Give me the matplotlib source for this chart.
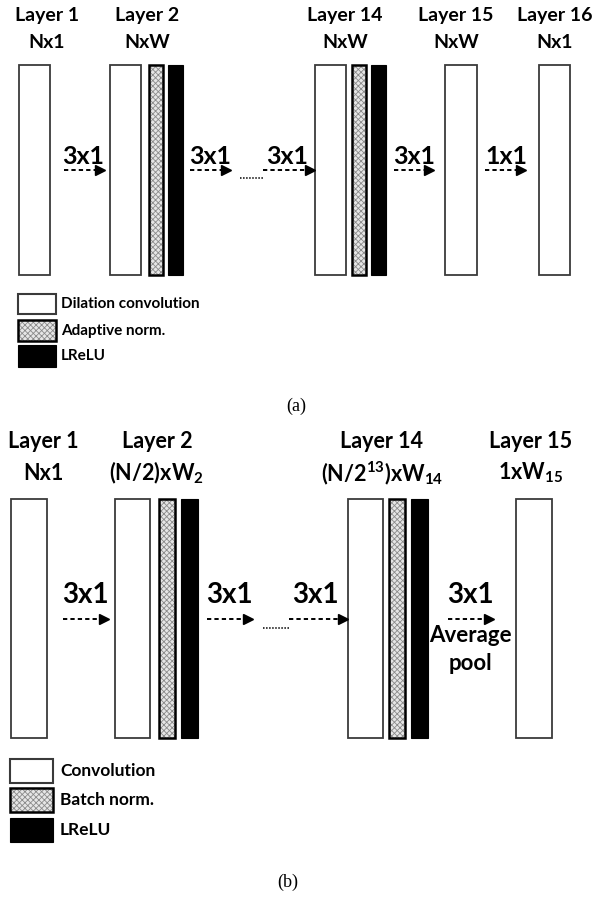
import matplotlib
matplotlib.use("Agg")
import matplotlib.pyplot as plt
from matplotlib.patches import Rectangle

# ---------- data ----------
# panel (a)
a_layers = ["Layer 1", "Layer 2", "Layer 14", "Layer 15", "Layer 16"]
a_sizes = ["Nx1", "NxW", "NxW", "NxW", "Nx1"]
a_kernels = ["3x1", "3x1", "3x1", "3x1", "1x1"]
a_legend = ["Dilation convolution", "Adaptive norm.", "LReLU"]

# panel (b)
b_layers = ["Layer 1", "Layer 2", "Layer 14", "Layer 15"]
b_sizes = ["Nx1", r"(N/2)xW$_{2}$", r"(N/2$^{13}$)xW$_{14}$", r"1xW$_{15}$"]
b_kernels = ["3x1", "3x1", "3x1", "3x1"]
b_legend = ["Convolution", "Batch norm.", "LReLU"]

plt.rcParams['font.family'] = ['Lato', 'DejaVu Sans']
plt.rcParams['font.weight'] = 'bold'
plt.rcParams['mathtext.fontset'] = 'custom'
plt.rcParams['mathtext.rm'] = 'Lato:bold'
plt.rcParams['mathtext.it'] = 'Lato:bold'
plt.rcParams['mathtext.bf'] = 'Lato:bold'
plt.rcParams['hatch.linewidth'] = 0.6

fig = plt.figure(figsize=(5.93, 8.97), dpi=100)
ax = fig.add_axes([0, 0, 1, 1])
ax.set_xlim(0, 593)
ax.set_ylim(897, 0)
ax.axis('off')


def conv_box(x0, x1, y0, y1, lw=1.3):
    ax.add_patch(Rectangle((x0, y0), x1 - x0, y1 - y0, facecolor='white',
                           edgecolor='#3a3a3a', lw=lw))


def norm_box(x0, x1, y0, y1):
    ax.add_patch(Rectangle((x0, y0), x1 - x0, y1 - y0, facecolor='#e6e6e6',
                           edgecolor='#8a8a8a', hatch='xxxxxx', lw=0))
    ax.add_patch(Rectangle((x0, y0), x1 - x0, y1 - y0, fill=False,
                           edgecolor='black', lw=1.8))


def relu_box(x0, x1, y0, y1):
    ax.add_patch(Rectangle((x0, y0), x1 - x0, y1 - y0, facecolor='black',
                           edgecolor='black', lw=0.8))


def arrow(x0, x1, y):
    ax.plot([x0, x1 - 7], [y, y], color='black', lw=1.4, ls=(0, (2.2, 1.6)))
    ax.plot([x1 - 4], [y], marker='>', color='black', ms=6.5, mec='black')


# ---------- panel (a) ----------
ya0, ya1 = 65, 275
a_conv = [(19, 50), (110, 141), (315, 346), (445, 477), (539, 570)]
a_cx = [47, 147, 345, 456, 555]
for i, (x0, x1) in enumerate(a_conv):
    conv_box(x0, x1, ya0, ya1)
    ax.text(a_cx[i], 16, a_layers[i], ha='center', va='center', fontsize=14)
    ax.text(a_cx[i], 42, a_sizes[i], ha='center', va='center', fontsize=14)
for x0, x1 in [(149, 163), (352, 366)]:
    norm_box(x0, x1, ya0, ya1)
for x0, x1 in [(168, 183), (371, 386)]:
    relu_box(x0, x1, ya0, ya1)

a_arrows = [(64, 104), (190, 230), (263, 314), (394, 433), (485, 525)]
a_tx = [83, 210, 287, 414, 506]
for i, (x0, x1) in enumerate(a_arrows):
    arrow(x0, x1, 170)
    ax.text(a_tx[i], 157, a_kernels[i], ha='center', va='center', fontsize=18)
ax.plot([240, 263], [178, 178], color='black', lw=1.1, ls=(0, (1, 1)))

# legend (a)
leg_y = [(294, 314), (320, 341), (345, 367)]
conv_box(18, 56, *leg_y[0], lw=1.5)
norm_box(18, 56, *leg_y[1])
relu_box(18, 56, *leg_y[2])
for (y0, y1), lab in zip(leg_y, a_legend):
    ax.text(61, (y0 + y1) / 2, lab, ha='left', va='center', fontsize=11)

ax.text(296, 406, "(a)", ha='center', va='center', fontsize=13,
        family='Liberation Serif', fontweight='normal')

# ---------- panel (b) ----------
yb0, yb1 = 499, 738
b_conv = [(11, 47), (115, 150), (348, 383), (516, 552)]
b_cx = [43, 157, 382, 531]
for i, (x0, x1) in enumerate(b_conv):
    conv_box(x0, x1, yb0, yb1)
    ax.text(b_cx[i], 441, b_layers[i], ha='center', va='center', fontsize=15.5)
    ax.text(b_cx[i], 473, b_sizes[i], ha='center', va='center', fontsize=15.5)
for x0, x1 in [(159, 175), (389, 405)]:
    norm_box(x0, x1, yb0, yb1)
for x0, x1 in [(181, 198), (411, 428)]:
    relu_box(x0, x1, yb0, yb1)

b_arrows = [(63, 108), (207, 252), (289, 347), (448, 493)]
b_tx = [85, 229, 315, 470]
for i, (x0, x1) in enumerate(b_arrows):
    arrow(x0, x1, 619)
    ax.text(b_tx[i], 595, b_kernels[i], ha='center', va='center', fontsize=20)
ax.plot([263, 289], [628, 628], color='black', lw=1.1, ls=(0, (1, 1)))
ax.text(470, 636, "Average", ha='center', va='center', fontsize=16)
ax.text(470, 664, "pool", ha='center', va='center', fontsize=16)

# legend (b)
leg_y = [(759, 783), (788, 812), (818, 842)]
conv_box(10, 53, *leg_y[0], lw=1.5)
norm_box(10, 53, *leg_y[1])
relu_box(10, 53, *leg_y[2])
for (y0, y1), lab in zip(leg_y, b_legend):
    ax.text(60, (y0 + y1) / 2, lab, ha='left', va='center', fontsize=12.5)

ax.text(288, 882, "(b)", ha='center', va='center', fontsize=13,
        family='Liberation Serif', fontweight='normal')

fig.savefig("out.png", dpi=100)
